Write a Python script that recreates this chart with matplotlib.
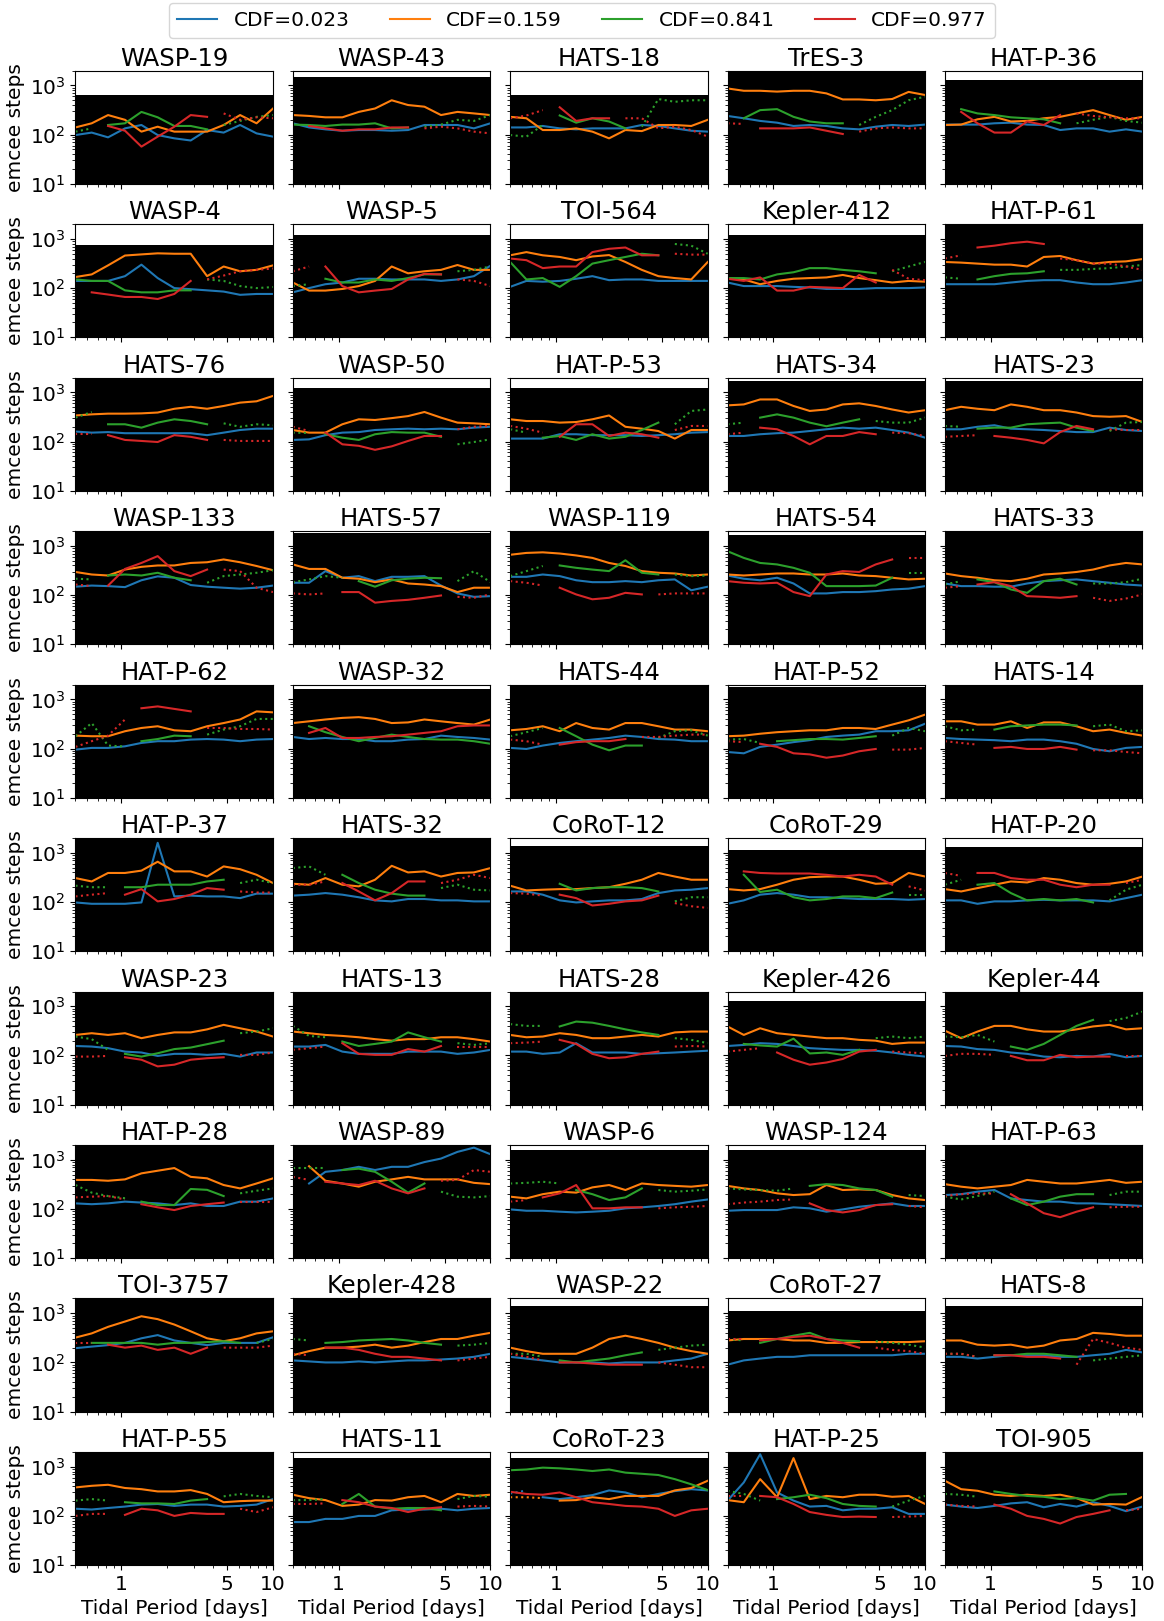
import matplotlib
matplotlib.use("Agg")
import matplotlib.pyplot as plt
from matplotlib.lines import Line2D

plt.rcParams['font.size'] = 14.5

# tidal period grid [days]
periods = [0.5, 0.64, 0.82, 1.06, 1.36, 1.74, 2.24, 2.87, 3.68, 4.73, 6.07, 7.79, 10.0]

targets = [
    "WASP-19", "WASP-43", "HATS-18", "TrES-3", "HAT-P-36",
    "WASP-4", "WASP-5", "TOI-564", "Kepler-412", "HAT-P-61",
    "HATS-76", "WASP-50", "HAT-P-53", "HATS-34", "HATS-23",
    "WASP-133", "HATS-57", "WASP-119", "HATS-54", "HATS-33",
    "HAT-P-62", "WASP-32", "HATS-44", "HAT-P-52", "HATS-14",
    "HAT-P-37", "HATS-32", "CoRoT-12", "CoRoT-29", "HAT-P-20",
    "WASP-23", "HATS-13", "HATS-28", "Kepler-426", "Kepler-44",
    "HAT-P-28", "WASP-89", "WASP-6", "WASP-124", "HAT-P-63",
    "TOI-3757", "Kepler-428", "WASP-22", "CoRoT-27", "HATS-8",
    "HAT-P-55", "HATS-11", "CoRoT-23", "HAT-P-25", "TOI-905",
]

# number of steps available per target (black band)
fill_top = [
    640, 1500, 650, 2000, 1320,
    750, 1200, 1000, 1200, 2000,
    2000, 1240, 1240, 1700, 1700,
    2000, 1840, 2000, 1700, 2000,
    2000, 1620, 2000, 1780, 2000,
    2000, 2000, 1390, 1150, 1340,
    2000, 2000, 2000, 1300, 2000,
    2000, 2000, 1620, 1620, 2000,
    2000, 2000, 1400, 1100, 1400,
    2000, 1530, 1530, 2000, 2000,
]

# emcee steps needed, one row per target; s = converged, d = not converged, x = no value
cdf_023 = [
    [98, 110, 88, 134, 157, 98, 84, 76, 124, 110, 157, 106, 91],
    [170, 140, 128, 120, 124, 124, 120, 124, 157, 157, 157, 134, 170],
    [140, 140, 150, 134, 128, 134, 134, 134, 157, 150, 134, 120, 115],
    [240, 215, 190, 175, 150, 157, 150, 134, 128, 145, 157, 150, 160],
    [160, 160, 160, 170, 175, 160, 157, 124, 134, 134, 115, 128, 115],
    [140, 140, 140, 175, 300, 160, 100, 95, 90, 85, 73, 76, 76],
    [82, 100, 120, 130, 155, 155, 150, 150, 150, 140, 150, 175, 285],
    [106, 140, 135, 140, 155, 175, 145, 150, 150, 140, 140, 140, 140],
    [130, 110, 110, 110, 106, 103, 96, 96, 96, 100, 100, 100, 103],
    [120, 120, 120, 120, 130, 140, 145, 145, 130, 120, 120, 130, 145],
    [160, 152, 156, 148, 148, 148, 148, 148, 135, 152, 172, 183, 183],
    [108, 111, 135, 152, 156, 172, 178, 183, 178, 183, 178, 192, 200],
    [115, 115, 115, 141, 141, 135, 135, 135, 130, 135, 141, 152, 156],
    [130, 130, 141, 148, 152, 164, 178, 192, 183, 192, 172, 152, 120],
    [178, 178, 200, 215, 183, 178, 172, 164, 156, 156, 192, 172, 164],
    [148, 156, 152, 145, 200, 240, 225, 160, 148, 141, 135, 141, 156],
    [178, 178, 307, 225, 243, 192, 235, 235, 243, 156, 108, 92, 95],
    [235, 235, 262, 243, 200, 183, 183, 192, 183, 200, 208, 125, 148],
    [250, 215, 200, 225, 172, 108, 108, 115, 115, 120, 130, 135, 152],
    [172, 152, 152, 148, 148, 172, 192, 200, 208, 192, 178, 164, 156],
    [95, 103, 103, 111, 130, 141, 141, 152, 156, 152, 141, 152, 156],
    [172, 156, 164, 156, 156, 141, 141, 152, 156, 183, 172, 164, 152],
    [103, 98, 115, 130, 141, 152, 164, 183, 172, 156, 152, 141, 141],
    [85, 80, 108, 120, 135, 148, 172, 183, 192, 225, 225, 235, 320],
    [164, 156, 152, 148, 141, 152, 152, 141, 125, 98, 88, 103, 108],
    [98, 92, 92, 92, 98, 1600, 130, 135, 130, 130, 120, 148, 148],
    [135, 141, 152, 141, 125, 108, 103, 115, 115, 108, 108, 103, 103],
    [164, 164, 141, 108, 98, 103, 108, 108, 115, 152, 172, 178, 192],
    [92, 108, 141, 152, 141, 125, 125, 120, 115, 115, 115, 111, 115],
    [108, 108, 92, 103, 103, 108, 111, 108, 108, 108, 103, 120, 141],
    [156, 152, 141, 120, 115, 98, 108, 108, 103, 108, 95, 115, 115],
    [152, 152, 164, 120, 108, 108, 108, 120, 120, 120, 108, 115, 130],
    [120, 120, 108, 115, 178, 115, 115, 115, 108, 111, 115, 120, 125],
    [156, 164, 178, 172, 156, 141, 135, 130, 130, 125, 115, 103, 95],
    [156, 152, 135, 130, 115, 108, 95, 92, 98, 95, 108, 92, 98],
    [130, 125, 130, 141, 135, 130, 120, 130, 115, 115, 141, 141, 164],
    [262, 330, 570, 620, 720, 620, 720, 720, 900, 1060, 1450, 1770, 1300],
    [98, 92, 92, 88, 85, 88, 92, 103, 108, 115, 125, 141, 156],
    [92, 95, 95, 95, 108, 103, 88, 98, 111, 120, 130, 115, 115],
    [192, 200, 225, 243, 164, 152, 141, 141, 130, 130, 125, 120, 115],
    [195, 210, 225, 250, 310, 360, 280, 250, 225, 250, 250, 250, 325],
    [110, 105, 100, 100, 105, 100, 105, 110, 110, 115, 120, 130, 150],
    [130, 120, 110, 100, 100, 100, 95, 100, 100, 100, 110, 120, 150],
    [90, 110, 120, 130, 130, 140, 140, 140, 140, 140, 140, 150, 150],
    [130, 130, 120, 130, 140, 140, 140, 130, 130, 140, 150, 180, 160],
    [140, 135, 145, 155, 170, 175, 160, 170, 170, 155, 160, 170, 220],
    [75, 75, 87, 87, 100, 100, 130, 135, 135, 140, 130, 140, 145],
    [285, 330, 240, 220, 240, 265, 330, 300, 240, 280, 320, 350, 330],
    [205, 480, 1800, 300, 205, 155, 160, 130, 140, 140, 150, 110, 110],
    [170, 155, 145, 160, 180, 190, 150, 175, 155, 190, 160, 125, 155],
]
mask_023 = ["sssssssssssss"] * 36 + ["dssssssssssss"] + ["sssssssssssss"] * 10 + \
    ["ddsssssssssss"] + ["sssssssssssss"] * 2

cdf_159 = [
    [140, 170, 250, 200, 115, 145, 115, 115, 115, 157, 250, 170, 340],
    [250, 240, 225, 225, 290, 340, 500, 400, 370, 250, 290, 270, 250],
    [230, 215, 124, 124, 134, 115, 84, 124, 118, 157, 157, 150, 200],
    [870, 780, 780, 750, 780, 780, 690, 520, 520, 500, 530, 740, 640],
    [157, 160, 205, 230, 185, 190, 215, 230, 270, 315, 250, 200, 230],
    [168, 190, 290, 460, 485, 510, 500, 500, 175, 275, 220, 235, 290],
    [130, 89, 89, 96, 110, 140, 275, 200, 220, 235, 295, 235, 235],
    [465, 540, 465, 430, 370, 440, 470, 340, 235, 175, 160, 150, 340],
    [160, 150, 120, 140, 155, 160, 165, 185, 160, 145, 130, 140, 135],
    [340, 330, 315, 300, 300, 275, 430, 450, 370, 315, 340, 350, 390],
    [340, 358, 370, 370, 375, 390, 465, 510, 465, 530, 620, 660, 850],
    [172, 152, 152, 225, 284, 275, 300, 330, 400, 307, 243, 235, 225],
    [284, 262, 262, 243, 250, 284, 340, 200, 183, 164, 115, 172, 172],
    [545, 570, 720, 720, 530, 420, 450, 570, 600, 530, 450, 390, 435],
    [435, 510, 465, 435, 570, 510, 435, 435, 390, 330, 320, 330, 250],
    [295, 262, 250, 330, 375, 400, 400, 450, 465, 530, 465, 390, 320],
    [420, 340, 340, 225, 215, 183, 208, 172, 164, 152, 115, 141, 141],
    [660, 720, 740, 700, 640, 570, 450, 390, 307, 284, 275, 250, 262],
    [262, 250, 262, 275, 275, 262, 262, 275, 250, 243, 225, 208, 215],
    [275, 243, 225, 200, 192, 215, 262, 275, 295, 330, 400, 450, 420],
    [183, 178, 178, 225, 262, 284, 235, 225, 284, 330, 390, 570, 545],
    [330, 358, 390, 420, 435, 400, 330, 340, 390, 358, 330, 307, 390],
    [235, 250, 284, 225, 330, 262, 243, 330, 330, 284, 243, 243, 225],
    [178, 183, 200, 215, 225, 235, 235, 262, 262, 250, 307, 375, 490],
    [358, 358, 307, 307, 358, 262, 340, 340, 284, 225, 243, 208, 183],
    [307, 262, 390, 390, 435, 660, 420, 420, 330, 530, 465, 358, 243],
    [235, 225, 307, 225, 208, 284, 545, 400, 420, 330, 390, 400, 490],
    [215, 172, 178, 183, 183, 192, 200, 235, 284, 390, 330, 284, 284],
    [183, 172, 183, 225, 284, 320, 330, 330, 284, 235, 243, 390, 330],
    [183, 164, 192, 225, 262, 250, 307, 284, 243, 225, 235, 262, 330],
    [262, 284, 262, 284, 225, 262, 295, 295, 340, 420, 358, 307, 243],
    [307, 284, 262, 250, 235, 215, 200, 215, 215, 235, 235, 215, 192],
    [262, 235, 243, 284, 262, 225, 225, 243, 262, 243, 295, 307, 307],
    [390, 262, 358, 284, 262, 243, 225, 225, 208, 200, 172, 183, 183],
    [320, 225, 307, 400, 400, 340, 307, 307, 340, 390, 420, 340, 358],
    [390, 390, 375, 400, 530, 600, 680, 450, 420, 307, 262, 330, 420],
    [None, 740, 375, 330, 284, 358, 400, 450, 400, 400, 400, 340, 320],
    [178, 164, 200, 225, 215, 275, 307, 243, 330, 307, 295, 284, 307],
    [295, 262, 243, 208, 192, 200, 307, 243, 250, 243, 192, 164, 152],
    [320, 284, 262, 284, 307, 390, 358, 330, 330, 358, 390, 340, 358],
    [320, 390, 530, 680, 870, 760, 590, 430, 310, 270, 310, 390, 430],
    [140, 170, 200, 200, 210, 230, 200, 220, 260, 300, 300, 350, 400],
    [200, 170, 150, 150, 150, 200, 300, 350, 300, 250, 200, 170, 150],
    [280, 300, 300, 300, 280, 280, 250, 250, 260, 260, 260, 260, 270],
    [280, 280, 230, 220, 230, 200, 220, 280, 300, 400, 380, 350, 350],
    [380, 410, 430, 370, 350, 315, 315, 335, 280, 190, 200, 205, 205],
    [270, 230, 210, 160, 170, 210, 205, 240, 255, 190, 280, 255, 270],
    [240, 240, 230, 205, 210, 240, 220, 255, 255, 255, 330, 370, 520],
    [210, 190, 560, 240, 1500, 220, 255, 240, 270, 270, 245, 255, 175],
    [520, 350, 325, 270, 255, 270, 255, 270, 230, 170, 175, 170, 245],
]
mask_159 = ["sssssssssssss"] * 36 + ["xssssssssssss"] + ["sssssssssssss"] * 10 + \
    ["dddssssssssss"] + ["sssssssssssss"] * 2

cdf_841 = [
    [115, 134, 157, 170, 290, 225, 150, 150, 128, 157, 190, 230, 250],
    [160, 157, 150, 160, 160, 170, 134, 140, 145, 160, 200, 190, 250],
    [98, 91, 157, 245, 175, 215, 185, 134, 145, 530, 465, 500, 500],
    [290, 215, 315, 330, 230, 185, 170, 170, 157, 230, 315, 500, 590],
    [315, 330, 270, 250, 225, 215, 205, 170, 170, 200, 230, 190, 175],
    [150, 140, 140, 90, 82, 82, 90, 90, 150, 140, 110, 100, 105],
    [110, 120, 155, 130, 130, 150, 140, 160, 190, 190, 220, 235, 275],
    [340, 150, 160, 106, 175, 315, 370, 430, 500, 465, 790, 730, 500],
    [160, 160, 150, 190, 210, 255, 255, 235, 220, 200, 220, 275, 340],
    [165, 155, 150, 175, 195, 200, 220, 235, 235, 245, 255, 275, 295],
    [307, 400, 225, 225, 192, 243, 284, 262, 225, 235, 200, 225, 215],
    [152, 150, 141, 120, 108, 141, 156, 152, 152, 125, 88, 98, 111],
    [178, 152, 120, 130, 108, 141, 115, 125, 172, 243, 225, 420, 450],
    [225, 243, 307, 358, 307, 243, 205, 243, 284, 262, 243, 243, 307],
    [208, 200, 183, 192, 192, 225, 235, 243, 192, 164, 164, 243, 250],
    [215, 208, 250, 262, 250, 284, 225, 200, 178, 243, 262, 284, 320],
    [183, 208, 243, 225, 192, 148, 200, 215, 225, 220, 192, 307, 183],
    [243, 307, 390, 400, 358, 330, 307, 510, 284, 262, 262, 243, 250],
    [780, 570, 450, 420, 358, 284, 152, 152, 152, 156, 225, 284, 284],
    [164, 192, 208, 183, 130, 111, 192, 215, 164, 172, 172, 183, 215],
    [178, 330, 115, 110, 141, 156, 183, 178, 192, 243, 284, 400, 400],
    [390, 284, 215, 172, 141, 165, 192, 172, 156, 152, 152, 141, 125],
    [178, 215, 262, 262, 178, 120, 92, 115, 115, 164, 225, 235, 183],
    [152, 156, 130, 141, 148, 156, 156, 152, 164, 178, 183, 262, 225],
    [284, 235, 243, 243, 284, 295, 307, 307, 295, 284, 307, 225, 235],
    [215, 200, 200, 200, 200, 225, 225, 225, 262, 284, 243, 284, 243],
    [490, 530, 358, 358, 243, 178, 148, 135, 135, 192, 225, 178, 172],
    [None, None, None, 235, 172, 192, 200, 200, 192, 164, 103, 125, 125],
    [262, 358, 160, 178, 125, 108, 115, 130, 130, 120, 156, 141, 141],
    [225, 284, 225, 243, 152, 108, 115, 108, 115, 98, 108, 178, 225],
    [243, 215, 130, 108, 95, 111, 135, 145, 170, 200, 284, 307, 358],
    [400, 250, 235, 192, 156, 172, 192, 295, 235, 192, 178, 164, 178],
    [435, 400, 400, 390, 490, 465, 400, 340, 295, 262, 225, 208, 178],
    [156, 172, 160, 152, 220, 110, 115, 103, 130, 225, 243, 225, 243],
    [243, 235, 262, 192, 152, 130, 172, 262, 400, 530, 500, 580, 780],
    [307, 215, 183, 165, 141, 120, 120, 255, 245, 183, 208, 235, 262],
    [680, 680, 680, 620, 660, 570, 358, 215, 330, 225, 178, 172, 183],
    [330, 340, 358, 330, 243, 200, 152, 172, 262, 243, 225, 235, 250],
    [262, 250, 243, 235, 262, 295, 320, 307, 262, 243, 178, 192, 183],
    [178, 156, 183, 225, 164, 120, 141, 178, 200, 200, 192, 225, 225],
    [250, 250, 250, 250, 250, 230, 250, 250, 260, 270, 250, 250, 300],
    [300, 280, 250, 260, 280, 290, 300, 280, 250, 230, 220, 230, 250],
    [150, 150, 130, 110, 100, 110, 120, 140, 160, 180, 200, 220, 230],
    [300, 280, 250, 300, 350, 400, 300, 280, 270, 270, 250, 230, 200],
    [150, 150, 130, 140, 140, 150, 150, 140, 130, 110, 120, 130, 140],
    [205, 220, 205, 190, 180, 180, 175, 205, 220, 250, 280, 255, 240],
    [210, 210, 220, 175, 280, 155, 140, 145, 145, 130, 220, 255, 245],
    [850, 880, 960, 930, 880, 820, 880, 760, 720, 680, 560, 440, 335],
    [325, 280, 205, 220, 240, 270, 230, 175, 160, 155, 155, 205, 255],
    [280, 270, 245, 315, 280, 255, 245, 220, 230, 205, 270, 280, 315],
]
mask_841 = [
    "ddsssssssdddd", "ssssssssddddd", "dddsssssddddd", "dsssssssddddd", "dsssssssddddd",
    "ssssssssddddd", "ddssssssssddd", "ssssssssssddd", "ssssssssssddd", "ddsssssdddddd",
    "ddsssssssdddd", "ddssssssssddd", "ddssssssssddd", "ddsssssssdddd", "ddssssssssddd",
    "ddssssssddddd", "ddddssssssddd", "dddsssssssddd", "sssssssssssdd", "ddsssssssdddd",
    "ddddssssddddd", "dssssssssssss", "dddssssssdddd", "dddsssssssddd", "dddssssssdddd",
    "dddsssssssddd", "dddssssssdddd", "xxxsssssssddd", "dssssssssssdd", "ddssssssssddd",
    "dddsssssssddd", "dddsssssssddd", "dddsssssssddd", "dssssssssdddd", "ddddssssssddd",
    "ddddssssssddd", "dddssssssdddd", "ddddsssssdddd", "dddddssssssdd", "ddddssssssddd",
    "dssssssssssdd", "ddssssssssddd", "dddssssssdddd", "ddsssssssdddd", "dddssssssdddd",
    "dddssssssdddd", "dddsssssssddd", "sssssssssssss", "dddsssssssddd", "dddsssssssssd",
]

cdf_977 = [
    [None, None, 150, 120, 57, 91, 145, 250, 230, 270, 200, 225, 215],
    [None, 150, 134, 120, 128, 128, 140, 140, 134, 145, 134, 115, 106],
    [215, 245, 315, 360, 190, 215, 215, 215, 215, 134, 145, 124, 91],
    [170, 165, 134, 134, 134, 140, 120, 103, 115, 134, 140, 134, 134],
    [300, 290, 170, 110, 110, 185, 157, 250, 270, 240, 225, 215, 215],
    [100, 82, 74, 66, 66, 60, 76, 140, 150, 180, 220, 235, 250],
    [220, 275, 275, 110, 82, 89, 96, 150, 195, 190, 150, 140, 110],
    [400, 370, 255, 275, 275, 540, 630, 670, 465, 465, 500, 480, 480],
    [155, 140, 165, 89, 89, 106, 103, 100, 185, 130, 235, 155, 145],
    [400, 465, 670, 730, 820, 880, 790, 400, 370, 315, 315, 275, 235],
    [141, 141, 135, 108, 103, 98, 135, 125, 108, 108, 103, 103, 103],
    [200, 164, 152, 88, 82, 68, 80, 103, 130, 130, 178, 200, 208],
    [208, 183, 152, 125, 225, 225, 130, 152, 141, 120, 172, 208, 208],
    [141, 152, 192, 178, 130, 88, 130, 130, 156, 141, 152, 148, 130],
    [125, 130, 135, 130, 120, 108, 92, 156, 208, 178, 178, 172, 172],
    [164, 152, 156, 340, 450, 620, 307, 243, 330, 330, 307, 141, 115],
    [108, 103, 108, 115, 115, 70, 76, 80, 88, 98, 92, 88, 103],
    [192, 178, 156, 141, 103, 82, 88, 111, 103, 103, 108, 108, 108],
    [192, 178, 172, 178, 115, 95, 262, 307, 295, 420, 530, 570, 570],
    [141, 152, 164, 183, 152, 95, 92, 88, 95, 88, 76, 85, 103],
    [108, 141, 183, 390, 660, 720, 640, 570, 262, 262, 250, 250, 243],
    [None, 208, 262, 164, 164, 172, 178, 192, 208, 225, 284, 295, 295],
    [152, 141, 120, 120, 135, 141, 141, 156, 172, 172, 183, 192, 192],
    [141, 135, 125, 108, 80, 76, 65, 72, 88, 98, 95, 95, 103],
    [141, 130, 120, 103, 108, 98, 98, 108, 95, 92, 92, 85, 80],
    [130, 141, 152, 141, 183, 103, 115, 141, 192, 178, 164, 156, 156],
    [225, 225, 262, 243, 164, 108, 152, 262, 262, 243, 284, 358, 307],
    [152, 148, 135, 141, 120, 85, 92, 103, 108, 135, 95, 82, 76],
    [284, 420, 390, 380, 380, 380, 358, 330, 358, 330, 225, 208, 172],
    [390, 340, 390, 390, 307, 284, 284, 225, 200, 225, 225, 243, 284],
    [95, 95, 98, 92, 82, 60, 65, 82, 88, 92, 103, 103, 115],
    [130, 141, 152, 178, 108, 103, 103, 135, 120, 156, 152, 152, 152],
    [178, 183, 192, 208, 172, 108, 88, 92, 108, 120, 152, 156, 152],
    [120, 130, 141, 115, 82, 65, 72, 85, 120, 130, 120, 115, 111],
    [98, 108, 108, 103, 98, 80, 80, 103, 92, 95, 95, 98, 98],
    [172, 178, 183, 156, 125, 108, 95, 115, 125, 135, 141, 141, 141],
    [450, 390, 358, 330, 307, 375, 262, 208, 262, 375, 390, 620, 570],
    [141, 152, 172, 208, 307, 103, 103, 108, 108, 103, 108, 111, 115],
    [125, 135, 141, 152, 156, 130, 95, 85, 95, 120, 125, 115, 108],
    [183, 200, 208, 205, 200, 130, 82, 68, 88, 108, 108, 111, 111],
    [250, 250, 230, 200, 220, 180, 200, 150, 200, 200, 200, 200, 220],
    [150, 140, 200, 200, 180, 150, 130, 130, 120, 110, 110, 120, 130],
    [150, 130, 110, 100, 100, 95, 90, 90, 90, 100, 90, 80, 80],
    [300, 300, 280, 300, 330, 350, 300, 250, 200, 200, 180, 170, 150],
    [150, 150, 130, 140, 140, 130, 130, 120, 90, 300, 250, 200, 180],
    [100, 110, 110, 105, 140, 130, 100, 115, 110, 110, 140, 120, 150],
    [175, 175, 180, 210, 190, 155, 145, 120, 140, 150, 155, 160, 155],
    [310, 280, 270, 300, 240, 190, 175, 160, 155, 140, 100, 130, 140],
    [255, 255, 255, 240, 175, 120, 105, 95, 97, 95, 95, 97, 100],
    [170, 160, 155, 170, 140, 100, 87, 70, 95, 110, 130, 130, 140],
]
mask_977 = [
    "xxsssssssdddd", "xsssssssddddd", "dddssssdddddd", "ddssssssddddd", "dsssssssddddd",
    "dsssssssddddd", "ddssssssssddd", "ssssssssssddd", "ssssssssssddd", "ddsssssdddddd",
    "ddsssssssdddd", "ddssssssssddd", "dddsssssssddd", "ddssssssssddd", "dddsssssssddd",
    "ddsssssssdddd", "dddsssssssddd", "dddssssssdddd", "sssssssssssdd", "ddsssssssdddd",
    "ddddssssddddd", "xssssssssssss", "dddsssssddddd", "ddssssssssddd", "dddssssssdddd",
    "dddsssssssddd", "dddssssssdddd", "dddsssssssddd", "dssssssssssdd", "ddsssssssssdd",
    "dddsssssssddd", "dddsssssssddd", "dddsssssssddd", "dddsssssssddd", "ddddsssssssdd",
    "ddddssssssddd", "ddsssssssdddd", "ddsssssssdddd", "dddddssssssdd", "ddddssssssddd",
    "ddsssssssdddd", "ddssssssssddd", "dddssssssdddd", "ddsssssssdddd", "dddsssssddddd",
    "dddsssssssddd", "dddsssssssddd", "sssssssssssss", "ddssssssssddd", "dddssssssssdd",
]

labels = ["CDF=0.023", "CDF=0.159", "CDF=0.841", "CDF=0.977"]
colors = ["#1f77b4", "#ff7f0e", "#2ca02c", "#d62728"]


def draw_runs(ax, x, y, mask, color):
    # consecutive points with the same flag become one line
    n = len(x)
    i = 0
    while i < n:
        m = mask[i]
        j = i
        while j + 1 < n and mask[j + 1] == m:
            j += 1
        if m != 'x':
            ax.plot(x[i:j + 1], y[i:j + 1], color=color, lw=1.5,
                    ls='-' if m == 's' else ':')
        i = j + 1


fig, axes = plt.subplots(10, 5, figsize=(11.64, 16.21), dpi=100, sharex=True, sharey=True)
plt.subplots_adjust(left=0.0648, right=0.9815, top=0.9564, bottom=0.0345,
                    wspace=0.1, hspace=0.357)

series = [(cdf_023, mask_023), (cdf_159, mask_159), (cdf_841, mask_841), (cdf_977, mask_977)]

for k, ax in enumerate(axes.flat):
    ax.set_xscale('log')
    ax.set_yscale('log')
    ax.axhspan(10, fill_top[k], color='black', lw=0, zorder=0)
    for (vals, masks), c in zip(series, colors):
        draw_runs(ax, periods, vals[k], masks[k], c)
    ax.set_title(targets[k], fontsize=17.5, pad=3)
    ax.set_xlim(0.5, 10)
    ax.set_ylim(10, 2000)

axes[0, 0].set_xticks([1, 5, 10])
axes[0, 0].set_xticklabels(['1', '5', '10'])
axes[0, 0].set_yticks([10, 100, 1000])

for ax in axes[:, 0]:
    ax.set_ylabel("emcee steps")
for ax in axes[-1, :]:
    ax.set_xlabel("Tidal Period [days]")

handles = [Line2D([], [], color=c, lw=1.5) for c in colors]
fig.legend(handles, labels, ncol=4, loc='upper center', bbox_to_anchor=(0.5, 1.0),
           borderaxespad=0.15, fontsize=14.5)

fig.savefig("out.png", dpi=100)
